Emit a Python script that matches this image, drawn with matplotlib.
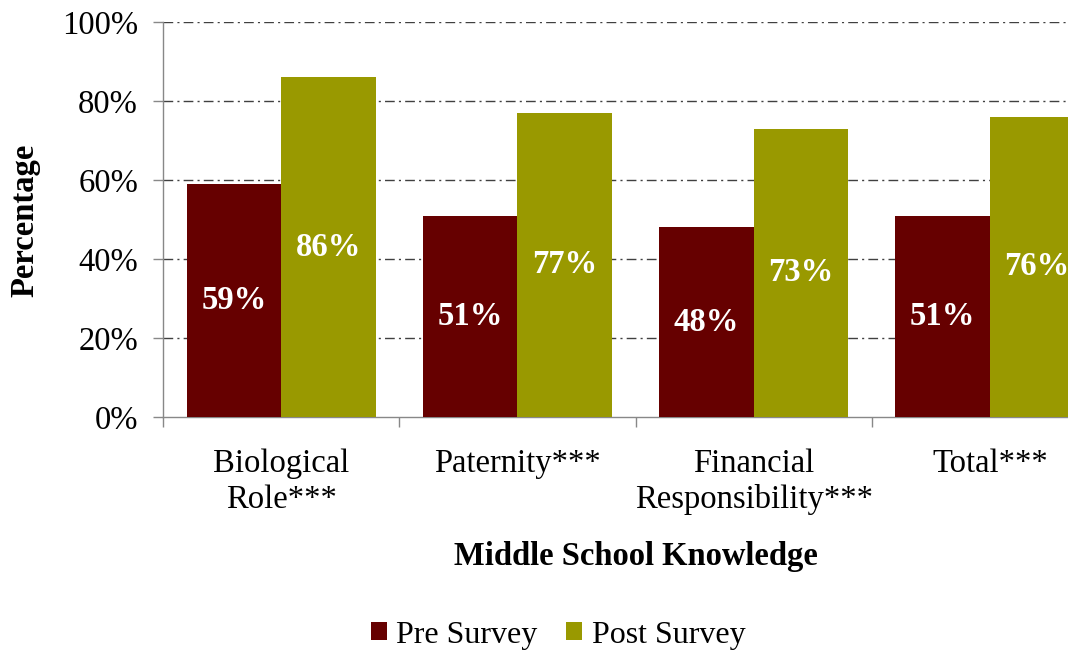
import matplotlib
matplotlib.use("Agg")
import matplotlib.pyplot as plt
from matplotlib.patches import Patch
import numpy as np

plt.rcParams['font.family'] = ['Liberation Serif', 'DejaVu Serif']

categories = ["Biological\nRole***", "Paternity***", "Financial\nResponsibility***", "Total***"]
pre_survey = [59, 51, 48, 51]
post_survey = [86, 77, 73, 76]

PRE_COLOR = "#660000"
POST_COLOR = "#999900"
FS = 23.5

fig = plt.figure(figsize=(10.68, 6.52), dpi=100)
# axes runs a little past the right edge of the figure
ax = fig.add_axes([163 / 1068, 235 / 652, 945 / 1068, 395 / 652])

x = np.arange(len(categories))
w = 0.4
pre_bars = ax.bar(x - w / 2, pre_survey, w, color=PRE_COLOR, zorder=3)
post_bars = ax.bar(x + w / 2, post_survey, w, color=POST_COLOR, zorder=3)

for bars, vals in [(pre_bars, pre_survey), (post_bars, post_survey)]:
    for b, v in zip(bars, vals):
        ax.text(b.get_x() + b.get_width() / 2, v / 2, f"{v}%", ha="center", va="center",
                color="white", fontsize=FS, fontweight="bold", zorder=4)

ax.set_xlim(-0.5, len(categories) - 0.5)
ax.set_ylim(0, 100)
ax.set_yticks(range(0, 101, 20))
ax.set_yticklabels([f"{v}%" for v in range(0, 101, 20)])

ax.set_xticks(np.arange(len(categories) + 1) - 0.5)
ax.set_xticklabels([])
ax.set_xticks(x, minor=True)
ax.set_xticklabels(categories, minor=True)

ax.tick_params(axis="y", direction="out", length=7, width=1, color="#888888",
               labelsize=FS, pad=11)
ax.tick_params(axis="x", which="major", direction="out", length=7, width=1, color="#888888")
ax.tick_params(axis="x", which="minor", length=0, labelsize=FS, pad=23)

ax.yaxis.grid(True, color="#404040", linewidth=1, dashes=(7, 3, 1.5, 3), zorder=0)
ax.set_axisbelow(True)
# no dashed line along the baseline, the spine covers it
ax.yaxis.get_gridlines()[0].set_visible(False)

for s in ["top", "right"]:
    ax.spines[s].set_visible(False)
for s in ["left", "bottom"]:
    ax.spines[s].set_color("#888888")
    ax.spines[s].set_linewidth(1)

fig.text(635.5 / 1068, 1 - 557 / 652, "Middle School Knowledge", ha="center", va="center",
         fontsize=FS, fontweight="bold")
fig.text(25 / 1068, 1 - 220 / 652, "Percentage", ha="center", va="center", rotation=90,
         fontsize=FS, fontweight="bold")

handles = [Patch(facecolor=PRE_COLOR), Patch(facecolor=POST_COLOR)]
fig.legend(handles, ["Pre Survey", "Post Survey"], loc="center", bbox_to_anchor=(558 / 1068, 1 - 635 / 652),
           ncol=2, frameon=False, fontsize=23, handlelength=0.5, handleheight=0.5,
           handletextpad=0.3, columnspacing=0.9)

fig.savefig("out.png", dpi=100)
